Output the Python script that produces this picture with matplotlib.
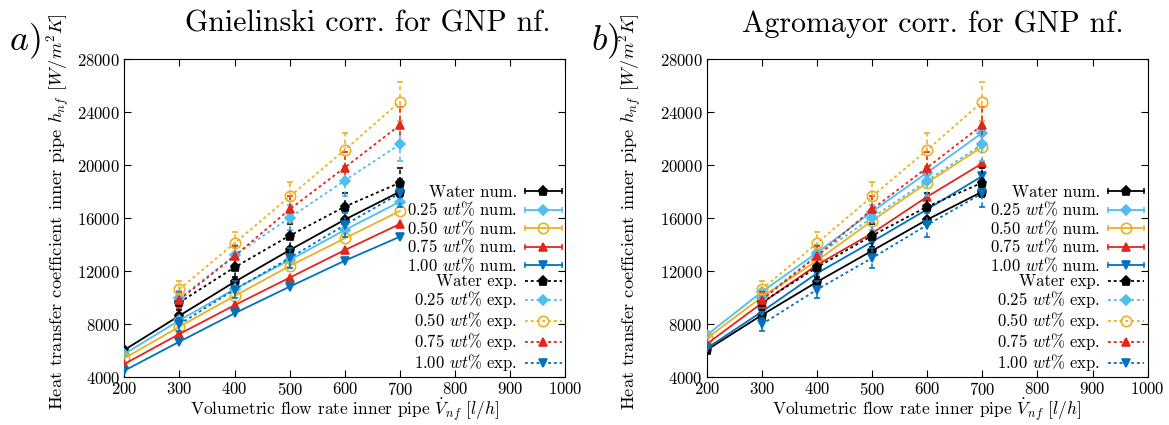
import matplotlib
matplotlib.use('Agg')
import matplotlib.pyplot as plt
from matplotlib.lines import Line2D
from matplotlib.legend_handler import HandlerLine2D, HandlerTuple

plt.rcParams['font.family'] = 'serif'
plt.rcParams['font.serif'] = ['cmr10']
plt.rcParams['mathtext.fontset'] = 'cm'
plt.rcParams['axes.formatter.use_mathtext'] = True
plt.rcParams['axes.unicode_minus'] = False

# ---------------- data ----------------
x_num = [200, 300, 400, 500, 600, 700]
x_exp = [300, 400, 500, 600, 700]

# Gnielinski correlation (numerical)
gn_water = [6060, 8650, 11200, 13600, 15900, 18010]
gn_025 = [5760, 8300, 10650, 12850, 15120, 17250]
gn_050 = [5430, 7820, 10140, 12400, 14490, 16550]
gn_075 = [5000, 7270, 9440, 11520, 13600, 15570]
gn_100 = [4500, 6690, 8830, 10840, 12800, 14610]

# Agromayor correlation (numerical)
ag_water = [6060, 8700, 11200, 13550, 15900, 18010]
ag_025 = [7190, 10450, 13400, 16500, 19450, 22460]
ag_050 = [6940, 10050, 12800, 15820, 18690, 21400]
ag_075 = [6510, 9600, 12480, 14870, 17630, 20150]
ag_100 = [6190, 8950, 11850, 14230, 16680, 19190]

# Experimental
exp_water = [9650, 12300, 14690, 16880, 18690]
exp_025 = [9950, 13200, 16050, 18850, 21590]
exp_050 = [10650, 14120, 17650, 21160, 24800]
exp_075 = [9850, 13150, 16680, 19830, 23040]
exp_100 = [8000, 10620, 13000, 15500, 17890]

err_water = [580, 740, 880, 1010, 1120]
err_025 = [600, 790, 960, 1130, 1300]
err_050 = [640, 850, 1060, 1270, 1490]
err_075 = [590, 790, 1000, 1190, 1380]
err_100 = [480, 640, 780, 930, 1070]

series_names = ['Water', r'0.25 $wt\%$', r'0.50 $wt\%$', r'0.75 $wt\%$', r'1.00 $wt\%$']
colors = ['#000000', '#4DBEEE', '#EDB120', '#E3261C', '#0072BD']
markers = ['p', 'D', 'o', '^', 'v']
msizes = [6.5, 4.8, 7.5, 6, 6]

titles = ['Gnielinski corr. for GNP nf.', 'Agromayor corr. for GNP nf.']
panel_tags = [r'$a)$', r'$b)$']
num_sets = [[gn_water, gn_025, gn_050, gn_075, gn_100],
            [ag_water, ag_025, ag_050, ag_075, ag_100]]
exp_set = [exp_water, exp_025, exp_050, exp_075, exp_100]
err_set = [err_water, err_025, err_050, err_075, err_100]

W, H = 1169, 425
fig = plt.figure(figsize=(W / 100, H / 100), dpi=100)

ax_left_px = [124.3, 706.7]
ax_w_px = 441
ax_top_px, ax_bot_px = 59.3, 377.3
title_cx = [368, 933]
tag_x = [9, 591]
ylab_x = [58, 630]

DOT = (0, (1.6, 1.6))

for p in range(2):
    ax = fig.add_axes([ax_left_px[p] / W, 1 - ax_bot_px / H, ax_w_px / W,
                       (ax_bot_px - ax_top_px) / H])
    handles, labels = [], []
    caps = []
    for i in range(5):
        mfc = 'none' if markers[i] == 'o' else colors[i]
        ax.plot(x_num, num_sets[p][i], color=colors[i], ls='-', lw=1.3,
                marker=markers[i], ms=msizes[i], mfc=mfc, mec=colors[i],
                mew=1.2, zorder=3)
        ln = Line2D([], [], color=colors[i], ls='-', lw=1.3, marker=markers[i],
                    ms=msizes[i], mfc=mfc, mec=colors[i], mew=1.2)
        cap = Line2D([], [], color=colors[i], ls='none', marker='|', ms=4.5, mew=1.1)
        caps.append(cap)
        handles.append((ln, cap))
        labels.append(series_names[i] + ' num.')
    for i in range(5):
        mfc = 'none' if markers[i] == 'o' else colors[i]
        eb = ax.errorbar(x_exp, exp_set[i], yerr=err_set[i], color=colors[i],
                         ls=DOT, lw=1.3, marker=markers[i], ms=msizes[i],
                         mfc=mfc, mec=colors[i], mew=1.2, capsize=2.5,
                         elinewidth=1.1, capthick=1.1, zorder=4)
        for bl in eb[2]:
            bl.set_linestyle((0, (3, 2)))
        ln = Line2D([], [], color=colors[i], ls=DOT, lw=1.3, marker=markers[i],
                    ms=msizes[i], mfc=mfc, mec=colors[i], mew=1.2)
        handles.append(ln)
        labels.append(series_names[i] + ' exp.')

    ax.set_xlim(200, 1000)
    ax.set_ylim(4000, 28000)
    ax.set_xticks(range(200, 1001, 100))
    ax.set_yticks(range(4000, 28001, 4000))
    ax.tick_params(direction='in', top=True, right=True, length=5, width=0.8,
                   labelsize=12, pad=3)
    for s in ax.spines.values():
        s.set_linewidth(0.8)

    hmap = {c: HandlerLine2D(numpoints=2, marker_pad=0.0) for c in caps}
    hmap[tuple] = HandlerTuple(ndivide=1)
    ax.legend(handles, labels, handler_map=hmap, loc='lower right',
              bbox_to_anchor=(0.992, 0.012), frameon=False, markerfirst=False,
              fontsize=12, handlelength=2.2, handletextpad=0.45,
              labelspacing=0.0, borderpad=0, borderaxespad=0, numpoints=1)

    cx = ax_left_px[p] + ax_w_px / 2
    fig.text(cx / W, 1 - 415 / H,
             r'Volumetric flow rate inner pipe $\dot{V}_{nf}$ $[l/h]$',
             ha='center', va='baseline', fontsize=12.5)
    fig.text(ylab_x[p] / W, 1 - 212 / H,
             r'Heat transfer coefficient inner pipe $h_{nf}$ $[W/m^2K]$',
             ha='center', va='center', rotation=90, fontsize=13.3)
    fig.text(title_cx[p] / W, 1 - 32 / H, titles[p], ha='center',
             va='baseline', fontsize=21.5)
    fig.text(tag_x[p] / W, 1 - 50 / H, panel_tags[p], ha='left',
             va='baseline', fontsize=26)

fig.savefig('out.png', dpi=100)
